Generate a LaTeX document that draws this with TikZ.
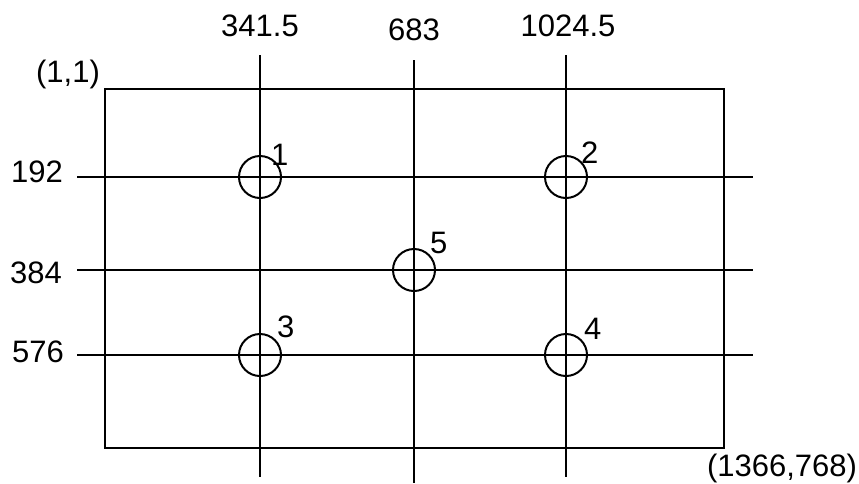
\documentclass[tikz,border=0pt]{standalone}
\usepackage{fontspec}
\setmainfont{Liberation Sans}

\begin{document}
\begin{tikzpicture}[x=1pt, y=-1pt,
  font=\fontsize{31}{37}\selectfont,
  gline/.style={line width=2pt},
  spot/.style={draw, circle, line width=2pt, minimum size=42pt, inner sep=0pt},
  lab/.style={inner sep=0pt},
  num/.style={inner sep=0pt, anchor=base west}]
  \useasboundingbox (0,0) rectangle (859,483);
  % screen frame
  \draw[gline] (105,89) rectangle (724,448);
  % vertical and horizontal division lines
  \draw[gline] (260,55) -- (260,477);
  \draw[gline] (414,60) -- (414,483);
  \draw[gline] (566,55) -- (566,477);
  \draw[gline] (77,177) -- (753,177);
  \draw[gline] (77,270) -- (753,270);
  \draw[gline] (77,355) -- (753,355);
  % coordinate values
  \node[lab] (colA) at (260,26) {341.5};
  \node[lab] (colB) at (414,30) {683};
  \node[lab] (colC) at (568,26) {1024.5};
  \node[lab, anchor=east] (rowA) at (63,172) {192};
  \node[lab, anchor=east] (rowB) at (62,273) {384};
  \node[lab, anchor=east] (rowC) at (64,352) {576};
  \node[lab] (topleft) at (68,74) {(1,1)};
  \node[lab] (botright) at (782,468) {(1366,768)};
  % measuring points
  \node[spot] (p1) at (260,177) {};
  \node[spot] (p2) at (566,177) {};
  \node[spot] (p3) at (260,355) {};
  \node[spot] (p4) at (566,355) {};
  \node[spot] (p5) at (414,270) {};
  \node[num] (n1) at (271,165) {1};
  \node[num] (n2) at (581,163) {2};
  \node[num] (n3) at (277,337) {3};
  \node[num] (n4) at (584,339) {4};
  \node[num] (n5) at (430,253) {5};
\end{tikzpicture}
\end{document}
